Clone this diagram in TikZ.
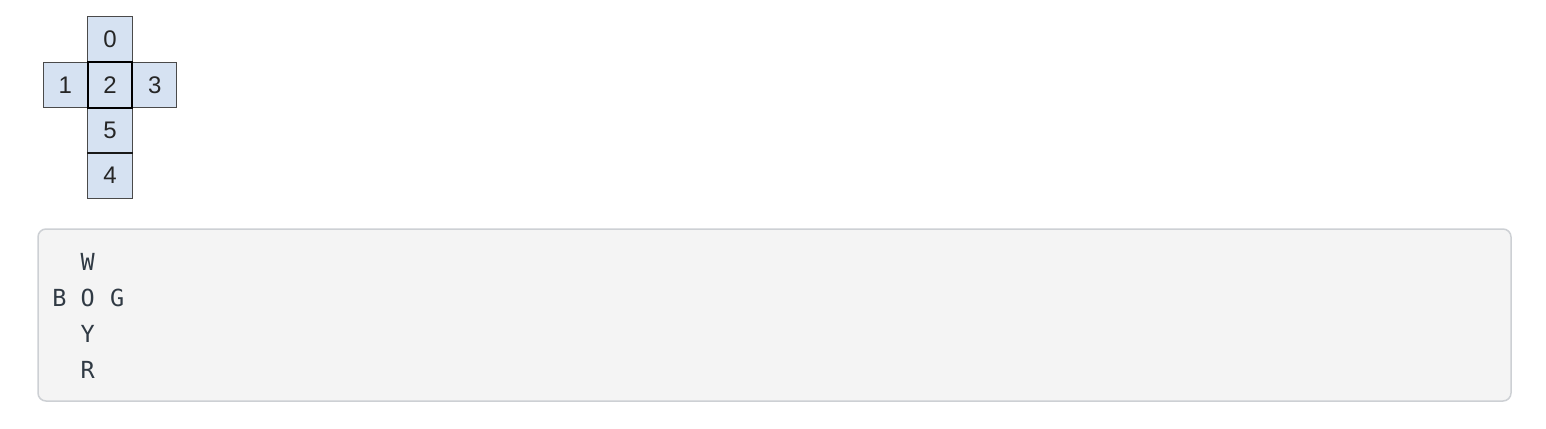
\documentclass[tikz,border=0pt]{standalone}
\usepackage{fontspec}
\setmainfont{Liberation Sans}
\newfontfamily\codefont{DejaVu Sans Mono}
\definecolor{facefill}{HTML}{D6E2F2}
\definecolor{faceline}{HTML}{4A4A4A}
\definecolor{codebg}{HTML}{F4F4F4}
\definecolor{codeborder}{HTML}{CDD0D4}
\definecolor{codetext}{HTML}{303A44}
\begin{document}
\begin{tikzpicture}[x=1pt,y=-1pt,
  face/.style={draw=faceline,fill=facefill,line width=1pt,minimum width=44.5pt,minimum height=45pt,inner sep=0pt,
    font=\fontsize{24}{24}\selectfont,text=black!85},
  letter/.style={anchor=base,inner sep=0pt,text=codetext,font=\codefont\fontsize{23.5}{23.5}\selectfont}]
\useasboundingbox (0,0) rectangle (1546,428);
% code box
\node[draw=codeborder,line width=1.5pt,fill=codebg,rounded corners=8pt,minimum width=1473pt,minimum height=172pt,inner sep=0pt] (code) at (774.5,315) {};
% cube net
\node[face] (f0) at (110,39.5) {0};
\node[face] (f1) at (65.3,85) {1};
\node[face] (f3) at (154.7,85) {3};
\node[face] (f5) at (110,130.5) {5};
\node[face] (f4) at (110,175.7) {4};
\node[face,draw=black,line width=2pt] (f2) at (110,85) {2};
\draw[black!90,line width=1.8pt] (f4.north west) -- (f4.north east);
% letters
\node[letter] (w) at (87.7,270) {W};
\node[letter] (b) at (59.5,306.7) {B};
\node[letter] (o) at (87.7,306.7) {O};
\node[letter] (g) at (117.2,306.7) {G};
\node[letter] (y) at (87.7,342) {Y};
\node[letter] (r) at (87.7,378) {R};
\end{tikzpicture}
\end{document}
